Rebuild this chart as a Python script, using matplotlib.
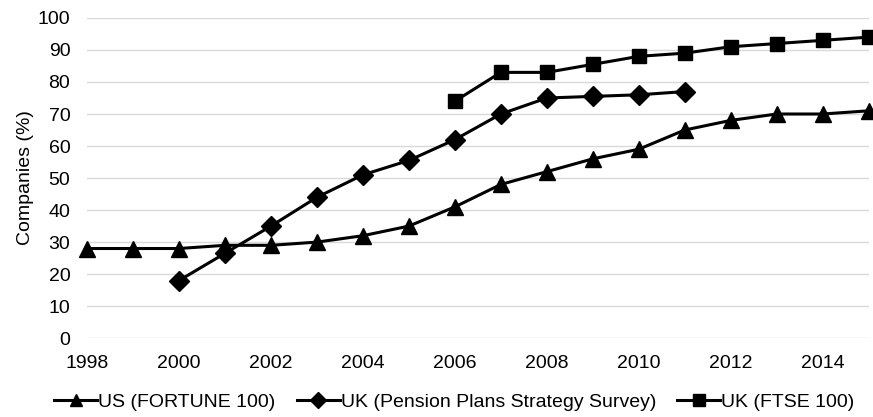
import matplotlib.pyplot as plt

plt.rcParams["font.family"] = ["Liberation Sans", "DejaVu Sans"]

us_years = list(range(1998, 2016))
us_values = [28, 28, 28, 29, 29, 30, 32, 35, 41, 48, 52, 56, 59, 65, 68, 70, 70, 71]

pension_years = list(range(2000, 2012))
pension_values = [18, 26.5, 35, 44, 51, 55.5, 62, 70, 75, 75.5, 76, 77]

ftse_years = list(range(2006, 2016))
ftse_values = [74, 83, 83, 85.5, 88, 89, 91, 92, 93, 94]

fig = plt.figure(figsize=(8.73, 4.17), dpi=100)
ax = fig.add_axes([0.0997, 0.189, 0.8953, 0.768])

ax.plot(us_years, us_values, marker="^", markersize=11, label="US (FORTUNE 100)",
        color="black", linewidth=2.2, clip_on=False, zorder=3)
ax.plot(pension_years, pension_values, marker="D", markersize=10,
        label="UK (Pension Plans Strategy Survey)",
        color="black", linewidth=2.2, clip_on=False, zorder=3)
ax.plot(ftse_years, ftse_values, marker="s", markersize=10.5, label="UK (FTSE 100)",
        color="black", linewidth=2.2, clip_on=False, zorder=3)

ax.set_xlim(1998, 2015)
ax.set_ylim(0, 100)
ax.set_yticks(range(0, 101, 10))
ax.set_xticks(range(1998, 2015, 2))
ax.grid(axis="y", color="#d9d9d9", linewidth=1)
ax.set_axisbelow(True)
for s in ax.spines.values():
    s.set_visible(False)
ax.tick_params(length=0, labelsize=14)
ax.tick_params(axis="x", pad=12)
ax.tick_params(axis="y", pad=12)
ax.set_ylabel("Companies (%)", fontsize=14, labelpad=3)

leg = ax.legend(loc="center", bbox_to_anchor=(0.47, -0.2), ncol=3, frameon=False,
                fontsize=14, handlelength=2.2, handletextpad=0.05, columnspacing=1.1,
                borderaxespad=0)
for h in leg.legend_handles:
    h.set_markersize(8)

fig.savefig("out.png", dpi=100)
